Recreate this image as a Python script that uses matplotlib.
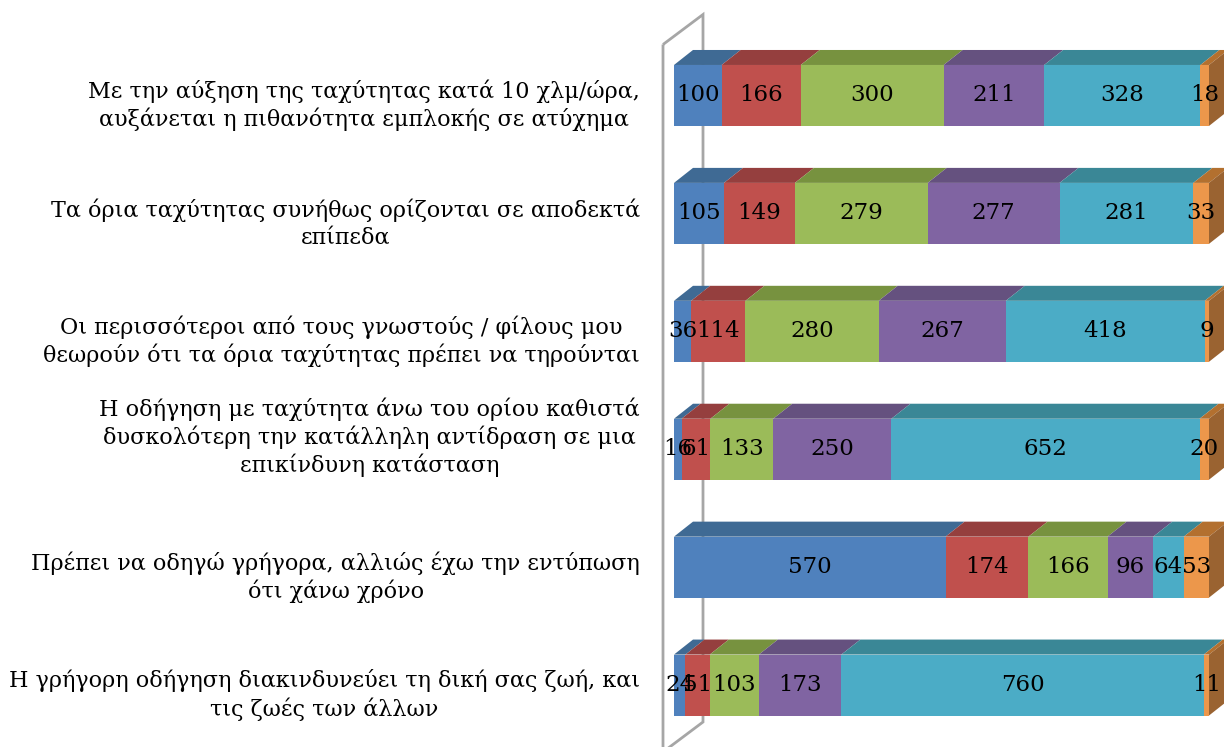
import numpy as np
import matplotlib.pyplot as plt
from matplotlib.patches import Polygon
from matplotlib.transforms import offset_copy

plt.rcParams['font.family'] = ['DejaVu Serif']

# Data
statements = [
    'Με την αύξηση της ταχύτητας κατά 10 χλμ/ώρα,\nαυξάνεται η πιθανότητα εμπλοκής σε ατύχημα',
    'Τα όρια ταχύτητας συνήθως ορίζονται σε αποδεκτά\nεπίπεδα',
    'Οι περισσότεροι από τους γνωστούς / φίλους μου\nθεωρούν ότι τα όρια ταχύτητας πρέπει να τηρούνται',
    'Η οδήγηση με ταχύτητα άνω του ορίου καθιστά\nδυσκολότερη την κατάλληλη αντίδραση σε μια\nεπικίνδυνη κατάσταση',
    'Πρέπει να οδηγώ γρήγορα, αλλιώς έχω την εντύπωση\nότι χάνω χρόνο',
    'Η γρήγορη οδήγηση διακινδυνεύει τη δική σας ζωή, και\nτις ζωές των άλλων',
]
series_1 = [100, 105, 36, 16, 570, 24]
series_2 = [166, 149, 114, 61, 174, 51]
series_3 = [300, 279, 280, 133, 166, 103]
series_4 = [211, 277, 267, 250, 96, 173]
series_5 = [328, 281, 418, 652, 64, 760]
series_6 = [18, 33, 9, 20, 53, 11]

front_colors = ['#4F81BD', '#C0504D', '#9BBB59', '#8064A2', '#4BACC6', '#EC974B']
top_colors = ['#3F6A94', '#953F3E', '#77923F', '#65517F', '#3A8796', '#B3702F']
side_color = '#9A6331'

values = np.array([series_1, series_2, series_3, series_4, series_5, series_6], dtype=float)
shares = values / values.sum(axis=0)
ypos = np.arange(len(statements))

fig = plt.figure(figsize=(12.24, 7.47), dpi=100)
ax = fig.add_axes([674 / 1224, 3 / 747, 535 / 1224, 707.5 / 747])
ax.set_xlim(0, 1)
ax.set_ylim(5.5, -0.5)
ax.axis('off')


def px(dx, dy):
    # pixel offset -> data offset
    inv = ax.transData.inverted()
    x0, y0 = inv.transform((0, 0))
    x1, y1 = inv.transform((dx, dy))
    return x1 - x0, y1 - y0


bar_h = 0.517
ddx, ddy = px(19, 15)       # bar depth
wfx, wfy = px(-11, -8)      # wall front
wbx, wby = px(29, 22)       # wall back

# side wall
y_top, y_bot = ax.get_ylim()[1], ax.get_ylim()[0]
wall = [(wfx, y_top + wfy), (wbx, y_top + wby), (wbx, y_bot + wby), (wfx, y_bot + wfy)]
ax.add_patch(Polygon(wall, closed=True, fill=False, edgecolor='#A6A6A6',
                     linewidth=2, clip_on=False, zorder=1))

lefts = np.zeros(len(statements))
for k in range(len(values)):
    w = shares[k]
    ax.barh(ypos, w, left=lefts, height=bar_h, color=front_colors[k], zorder=3)
    for i in range(len(statements)):
        l, r = lefts[i], lefts[i] + w[i]
        yt = ypos[i] - bar_h / 2
        top = [(l, yt), (r, yt), (r + ddx, yt + ddy), (l + ddx, yt + ddy)]
        ax.add_patch(Polygon(top, closed=True, facecolor=top_colors[k],
                             edgecolor='none', clip_on=False, zorder=2))
        if k == len(values) - 1:
            yb = ypos[i] + bar_h / 2
            side = [(r, yb), (r, yt), (r + ddx, yt + ddy), (r + ddx, yb + ddy)]
            ax.add_patch(Polygon(side, closed=True, facecolor=side_color,
                                 edgecolor='none', clip_on=False, zorder=2))
        ax.text((l + r) / 2, ypos[i], f'{int(values[k][i])}', ha='center', va='center',
                fontsize=16.5, color='black', zorder=5, clip_on=False)
    lefts += w

# category labels
lx, _ = px(-34, 0)
for i, s in enumerate(statements):
    nudge = -10 if s.count('\n') == 1 else 12
    tr = offset_copy(ax.transData, fig=fig, x=0, y=nudge, units='dots')
    ax.text(lx, ypos[i], s, ha='right', va='center', multialignment='center',
            fontsize=16, linespacing=1.25, transform=tr)

fig.savefig('out.png', dpi=100)
